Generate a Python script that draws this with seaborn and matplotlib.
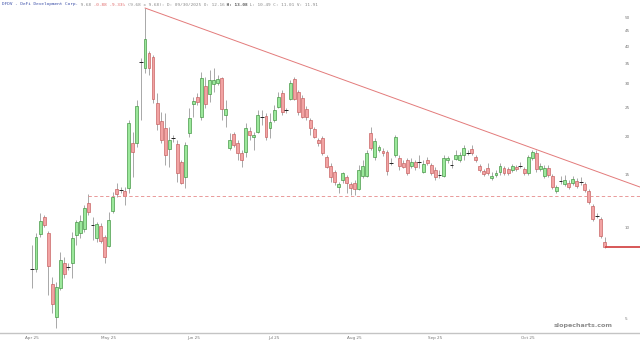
import numpy as np
import pandas as pd
import matplotlib
matplotlib.use("Agg")
import matplotlib.pyplot as plt
from matplotlib.ticker import NullLocator, FixedLocator
import seaborn as sns

# ---------------- data ----------------
opens = [7.27, 7.27, 9.51, 10.83, 9.58, 6.49, 5.03, 6.29, 7.61, 7.38,
         7.61, 9.43, 9.58, 9.88, 12.05, 10.18, 9.22, 10.11, 9.29, 8.67,
         11.33, 13.42, 13.31, 13.21, 13.52, 19.07, 19.07, 35.43, 33.85, 37.96,
         36.82, 25.90, 22.57, 21.39, 18.21, 19.81, 18.92, 16.49, 14.70, 20.58,
         25.70, 27.11, 23.27, 29.50, 27.74, 29.95, 30.18, 31.35, 23.63, 18.35,
         20.43, 19.07, 17.67, 17.80, 20.90, 19.96, 20.74, 23.27, 23.45, 21.39,
         22.74, 25.12, 27.95, 24.55, 26.70, 31.12, 28.17, 26.90, 24.74, 22.74,
         21.23, 19.51, 19.81, 17.14, 15.99, 15.27, 13.62, 14.37, 14.70, 13.94,
         14.04, 13.42, 14.82, 14.82, 20.58, 17.14, 18.08, 17.94, 17.80, 16.36,
         17.40, 17.01, 16.36, 16.74, 15.99, 16.49, 16.49, 15.27, 16.74, 16.11,
         15.51, 14.93, 14.82, 16.74, 16.11, 16.88, 16.74, 17.40, 17.67, 18.21,
         17.14, 15.99, 15.39, 15.75, 14.59, 14.93, 15.27, 15.75, 15.63, 15.51,
         15.87, 15.99, 15.63, 15.16, 17.01, 17.67, 15.63, 14.82, 15.75, 14.82,
         13.21, 14.26, 13.94, 14.04, 14.04, 14.26, 14.15, 13.94, 13.21, 11.78,
         10.91, 10.66, 8.94]
closes = [7.27, 9.29, 10.50, 10.18, 7.44, 5.57, 6.34, 7.79, 7.00, 7.38,
          9.22, 10.42, 10.50, 11.60, 11.25, 10.18, 10.26, 9.01, 7.97, 10.58,
          12.62, 12.91, 13.31, 12.71, 22.22, 17.80, 25.31, 35.43, 42.25, 33.85,
          26.70, 22.06, 19.51, 17.40, 19.51, 19.81, 15.16, 14.04, 18.78, 23.09,
          26.30, 26.10, 31.35, 25.70, 30.88, 30.88, 31.12, 24.74, 24.74, 19.51,
          18.78, 17.67, 16.74, 21.39, 20.27, 20.27, 23.63, 23.27, 19.96, 22.39,
          24.55, 27.11, 24.18, 24.55, 30.18, 26.70, 24.18, 23.27, 23.27, 21.39,
          19.96, 19.07, 17.67, 15.87, 14.70, 14.15, 13.94, 15.16, 14.04, 13.52,
          13.42, 15.51, 15.99, 17.67, 18.35, 19.36, 18.49, 17.67, 15.39, 16.36,
          19.96, 15.99, 15.87, 15.16, 16.49, 15.87, 16.49, 16.24, 16.36, 15.16,
          14.70, 14.93, 17.01, 17.01, 16.11, 17.40, 17.40, 18.35, 17.67, 17.67,
          16.74, 15.51, 15.04, 15.16, 14.82, 15.16, 15.99, 15.16, 15.16, 15.99,
          15.63, 15.99, 15.16, 17.14, 17.80, 15.63, 15.99, 15.75, 14.93, 13.62,
          13.62, 14.26, 14.37, 13.62, 14.48, 13.73, 14.15, 13.31, 12.14, 10.66,
          10.91, 9.36, 8.61]
highs = [8.74, 9.58, 11.16, 10.99, 9.73, 6.84, 6.59, 8.28, 7.97, 7.61,
         9.65, 10.58, 10.99, 11.87, 12.91, 10.83, 10.42, 10.34, 9.43, 11.25,
         13.11, 14.04, 13.62, 13.62, 22.74, 20.74, 26.50, 36.54, 53.57, 38.54,
         37.38, 27.95, 24.18, 23.99, 21.56, 20.27, 19.51, 16.74, 19.21, 24.93,
         27.11, 27.95, 32.82, 31.59, 33.33, 33.85, 32.08, 31.59, 26.50, 20.58,
         20.74, 19.51, 18.08, 22.22, 21.56, 20.74, 24.55, 24.55, 23.99, 23.99,
         25.51, 28.17, 28.60, 24.93, 30.88, 31.59, 28.60, 27.53, 25.31, 23.09,
         21.56, 19.81, 20.12, 17.40, 16.36, 15.51, 14.15, 15.27, 14.93, 14.15,
         14.37, 16.11, 16.74, 18.08, 21.56, 19.81, 18.78, 18.35, 18.08, 17.01,
         20.27, 17.40, 16.74, 17.01, 17.01, 16.74, 17.40, 16.74, 17.14, 16.36,
         15.87, 15.51, 17.40, 17.27, 16.74, 18.08, 17.80, 18.78, 18.08, 18.78,
         17.40, 16.24, 15.63, 16.36, 15.27, 15.51, 16.36, 15.99, 15.87, 16.24,
         16.11, 16.49, 15.87, 17.40, 18.08, 18.08, 16.36, 16.11, 16.11, 15.04,
         13.83, 14.82, 14.93, 14.37, 14.82, 14.59, 14.70, 14.15, 13.42, 11.96,
         11.16, 10.83, 9.29]
lows = [6.29, 7.11, 9.29, 10.03, 5.96, 5.19, 4.63, 6.19, 6.79, 7.22,
        6.79, 8.74, 9.22, 9.65, 10.99, 9.08, 8.94, 8.87, 7.61, 8.61,
        11.16, 12.62, 13.01, 11.87, 13.01, 14.70, 18.49, 22.74, 32.57, 32.08,
        25.90, 21.06, 19.07, 16.11, 15.87, 19.21, 14.15, 13.94, 13.52, 19.96,
        23.27, 25.51, 22.74, 24.93, 26.10, 28.17, 29.72, 22.74, 21.56, 18.08,
        18.49, 16.74, 15.87, 17.14, 19.51, 18.08, 20.58, 21.89, 19.51, 19.81,
        22.39, 24.93, 23.63, 23.99, 26.50, 26.50, 23.63, 23.09, 22.74, 20.27,
        19.81, 18.64, 17.40, 15.75, 14.15, 13.83, 13.01, 14.04, 13.01, 12.81,
        12.81, 13.31, 14.59, 14.70, 18.08, 16.74, 17.80, 17.27, 14.93, 16.11,
        17.14, 15.51, 15.75, 14.93, 15.75, 15.51, 15.75, 15.16, 16.11, 14.93,
        14.37, 14.59, 14.70, 16.36, 15.75, 16.74, 16.49, 16.74, 17.40, 17.40,
        16.49, 15.27, 14.82, 14.93, 14.37, 14.70, 14.93, 14.93, 14.93, 15.27,
        15.39, 15.75, 14.93, 14.93, 16.74, 15.27, 15.39, 14.59, 14.70, 13.42,
        13.01, 13.94, 13.73, 13.42, 13.83, 13.52, 13.83, 13.11, 11.96, 10.50,
        10.74, 9.22, 8.54]

month_labels = ["Apr 25", "May 25", "Jun 25", "Jul 25", "Aug 25", "Sep 25", "Oct 25"]
month_pos = [0, 19, 40, 60, 80, 100, 123]
price_ticks = [5, 10, 15, 20, 25, 30, 35, 40, 45, 50]

support_level = 12.71
support_start = 14
trend_x = [28, 150.7]
trend_y = [53.57, 13.62]

title_parts = [("DFDV - DeFi Development Corp.", "#3b4fa8", "normal"),
               (" 9.68", "#8a8a8a", "normal"),
               (" -0.88 -9.33%", "#e06a6a", "normal"),
               (" (9.68 x 9.68): D: 09/30/2025 O: 12.16", "#8a8a8a", "normal"),
               (" H: 13.08", "#555555", "bold"),
               (" L: 10.49 C: 11.01 V: 11.91", "#8a8a8a", "normal")]

# ---------------- figure ----------------
sns.set_theme(style="white")
W, H = 640, 343
fig = plt.figure(figsize=(W / 100, H / 100), dpi=100)
ax = fig.add_axes([0, 1 - 333 / H, 1, 333 / H])
ax.set_yscale("log")

df = pd.DataFrame({"o": opens, "c": closes, "h": highs, "l": lows})
df["i"] = np.arange(len(df))
up = df["c"] > df["o"]
dn = df["c"] < df["o"]
dj = df["c"] == df["o"]

ax.vlines(df["i"], df["l"], df["h"], color="#9a9a9a", lw=0.6, zorder=1)
ax.bar(df["i"][up], (df["c"] - df["o"])[up], bottom=df["o"][up], width=0.72,
       color="#9be89b", edgecolor="#3c8f3c", linewidth=0.45, zorder=2)
ax.bar(df["i"][dn], (df["o"] - df["c"])[dn], bottom=df["c"][dn], width=0.72,
       color="#f2a3a3", edgecolor="#c45a5a", linewidth=0.45, zorder=2)
ax.hlines(df["c"][dj], df["i"][dj] - 0.45, df["i"][dj] + 0.45, color="#222222",
          lw=0.7, zorder=2)

# trend line, support line, last price line
sns.lineplot(x=trend_x, y=trend_y, ax=ax, color="#e37b7b", lw=0.7, zorder=3)
ax.hlines(support_level, support_start, 152, colors="#e58a8a",
          linestyles=(0, (4, 3)), lw=0.6, zorder=3)
ax.hlines(closes[-1], len(closes) - 1, 152, colors="#d44a4a", lw=1.3, zorder=3)

ax.set_xlim(-7.93, 150.7)
ax.set_ylim(4.46, 56.95)

ax.yaxis.set_major_locator(FixedLocator(price_ticks))
ax.yaxis.set_minor_locator(NullLocator())
ax.set_yticklabels([str(t) for t in price_ticks])
ax.yaxis.tick_right()
ax.tick_params(axis="y", which="both", length=0, pad=-11, labelsize=3,
               labelcolor="#777777")
ax.set_xticks(month_pos)
ax.set_xticklabels(month_labels)
ax.tick_params(axis="x", length=0, pad=2, labelsize=3, labelcolor="#777777")
for s in ["top", "left", "right"]:
    ax.spines[s].set_visible(False)
ax.spines["bottom"].set_color("#c4c4c4")
ax.spines["bottom"].set_linewidth(1.0)
ax.set_xlabel("")
ax.set_ylabel("")
ax.grid(False)

# title line (monospace segments)
cw = 2.61
pos = 0
for txt, col, wt in title_parts:
    fig.text((2 + pos * cw) / W, 1 - 4.5 / H, txt, ha="left", va="center",
             fontsize=3.12, family="DejaVu Sans Mono", color=col, fontweight=wt)
    pos += len(txt)

fig.text(583 / W, 1 - 325 / H, "slopecharts.com", ha="center", va="center",
         fontsize=4.6, color="#8c8c8c", fontweight="bold")

fig.savefig("out.png", dpi=100)
